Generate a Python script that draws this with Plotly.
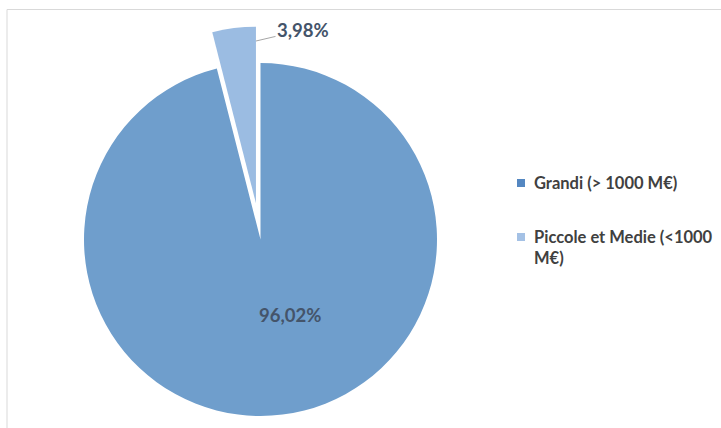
import math
import plotly.graph_objects as go

# ---- data ----
categories = ["Grandi (> 1000 M€)", "Piccole et Medie (<1000 M€)"]
legend_texts = ["Grandi (> 1000 M€)", "Piccole et Medie (<1000<br>M€)"]
shares = [96.02, 3.98]
slice_colors = ["#6f9ecc", "#9bbce2"]
legend_colors = ["#5487c1", "#a4c1e5"]

def fmt(v):
    return f"{v:.2f}%".replace(".", ",")

labels_txt = [fmt(v) for v in shares]

# ---- geometry (pixels in a 721x428 page, no margins) ----
W, H = 721, 428
CX, CY, R = 260.5, 239.5, 176.5
PULL_PX = 36.5

def px(x):
    return x / W

def py(y):
    return 1 - y / H

total = sum(shares)
# small slice sits just left of 12 o'clock (clockwise from top)
mid_deg = 360 - shares[1] / total * 180
dx = math.sin(math.radians(mid_deg)) * PULL_PX
dy = -math.cos(math.radians(mid_deg)) * PULL_PX
CX2, CY2 = CX + dx, CY + dy

transparent = "rgba(0,0,0,0)"

fig = go.Figure()

# main pie (large slice)
fig.add_trace(go.Pie(
    labels=categories, values=shares, sort=False, direction="clockwise", rotation=0,
    marker=dict(colors=[slice_colors[0], transparent], line=dict(width=0)),
    textinfo="none", hoverinfo="label+percent", showlegend=False,
    domain=dict(x=[px(CX - R), px(CX + R)], y=[py(CY + R), py(CY - R)]),
))
# exploded small slice
fig.add_trace(go.Pie(
    labels=categories, values=shares, sort=False, direction="clockwise", rotation=0,
    marker=dict(colors=[transparent, slice_colors[1]], line=dict(width=0)),
    textinfo="none", hoverinfo="label+percent", showlegend=False,
    domain=dict(x=[px(CX2 - R), px(CX2 + R)], y=[py(CY2 + R), py(CY2 - R)]),
))

label_font = dict(family="Lato, 'Liberation Sans', sans-serif", size=18.5, color="#44546a", weight="bold")
legend_font = dict(family="Lato, 'Liberation Sans', sans-serif", size=16.5, color="#404040", weight="bold")

annotations = [
    dict(x=px(290), y=py(315), xref="paper", yref="paper", text=labels_txt[0],
         showarrow=False, font=label_font, xanchor="center", yanchor="middle"),
    dict(x=px(256), y=py(41), xref="paper", yref="paper", text=labels_txt[1],
         showarrow=True, arrowhead=0, arrowwidth=1, arrowcolor="#a6a6a6",
         ax=47, ay=-11, standoff=0, font=label_font),
]

legend_y = [183, 247.5]
square_y = [183, 237]
shapes = [
    dict(type="rect", xref="paper", yref="paper", x0=px(7), x1=1.02, y0=-0.02, y1=py(9.5),
         line=dict(color="#d9d9d9", width=1), fillcolor=transparent, layer="below"),
]
for i, t in enumerate(legend_texts):
    annotations.append(dict(x=px(532), y=py(legend_y[i]), xref="paper", yref="paper", text=t,
                            showarrow=False, font=legend_font, xanchor="left", yanchor="middle",
                            align="left"))
    shapes.append(dict(type="rect", xref="paper", yref="paper",
                       x0=px(517), x1=px(525), y0=py(square_y[i] + 4), y1=py(square_y[i] - 4),
                       line=dict(width=0), fillcolor=legend_colors[i]))

fig.update_layout(
    width=W, height=H, margin=dict(l=0, r=0, t=0, b=0),
    paper_bgcolor="white", plot_bgcolor="white",
    showlegend=False, annotations=annotations, shapes=shapes,
)

fig.write_html("out.html")
